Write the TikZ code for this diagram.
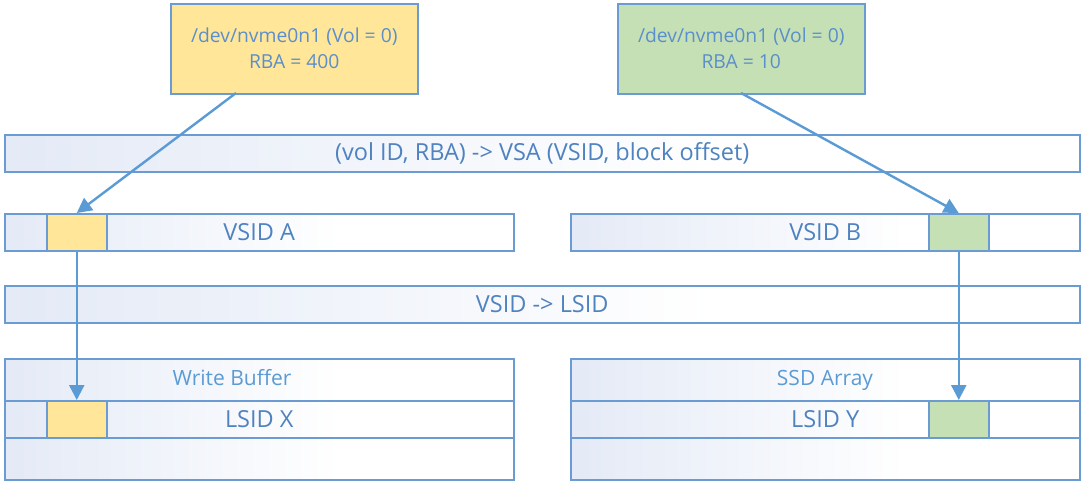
\documentclass[tikz,border=0pt]{standalone}
\usepackage{fontspec}
\setmainfont{Open Sans}
\usetikzlibrary{arrows.meta}
\definecolor{bord}{HTML}{6A9BD3}
\definecolor{arr}{HTML}{5B9BD5}
\definecolor{txt}{HTML}{4E82C0}
\definecolor{txtl}{HTML}{5B9BD5}
\definecolor{txtt}{HTML}{5B8FCB}
\definecolor{ylw}{HTML}{FFE699}
\definecolor{grn}{HTML}{C5E0B4}
\definecolor{grad}{HTML}{E4EAF6}
\pgfdeclarehorizontalshading{barshade}{100bp}{color(0bp)=(grad); color(25bp)=(grad); color(58bp)=(white); color(100bp)=(white)}
\begin{document}
\begin{tikzpicture}[x=1pt,y=-1pt,
  box/.style={draw=bord, line width=1.5pt, inner sep=0pt, anchor=north west, text=txt},
  bar/.style={box, shading=barshade, font=\fontsize{23.5}{26}\selectfont},
  blk/.style={box, minimum width=60pt, minimum height=37pt},
  lbl/.style={text=txtl, inner sep=0pt, font=\fontsize{21}{24}\selectfont},
  devbox/.style={box, minimum width=247pt, minimum height=90pt, align=center, text=txtt,
    font=\fontsize{19.3}{26}\selectfont},
  link/.style={draw=arr, line width=2.4pt, -{Triangle[width=15pt,length=15pt]}}
]
\useasboundingbox (0,0) rectangle (1086,485);
% top boxes
\node[devbox, fill=ylw] (devA) at (170,3) {/dev/nvme0n1 (Vol = 0)\\RBA = 400};
\node[devbox, fill=grn] (devB) at (617,3) {/dev/nvme0n1 (Vol = 0)\\RBA = 10};
% mapping bar 1
\node[bar, minimum width=1075pt, minimum height=37pt] (map1) at (4,134) {(vol ID, RBA) -> VSA (VSID, block offset)};
% VSID bars
\node[bar, minimum width=509pt, minimum height=37pt] (vsidA) at (4,213) {VSID A};
\node[bar, minimum width=509pt, minimum height=37pt] (vsidB) at (570,213) {VSID B};
\node[blk, fill=ylw] (blkA) at (46,213) {};
\node[blk, fill=grn] (blkB) at (928,213) {};
% mapping bar 2
\node[bar, minimum width=1075pt, minimum height=37pt] (map2) at (4,285) {VSID -> LSID};
% bottom containers
\node[bar, minimum width=509pt, minimum height=121pt] (wb) at (4,358) {};
\node[box, minimum width=509pt, minimum height=37pt, font=\fontsize{23.5}{26}\selectfont] (lsidX) at (4,400) {LSID X};
\node[lbl] (wbl) at (232,378) {Write Buffer};
\node[bar, minimum width=509pt, minimum height=121pt] (ssd) at (570,358) {};
\node[box, minimum width=509pt, minimum height=37pt, font=\fontsize{23.5}{26}\selectfont] (lsidY) at (570,400) {LSID Y};
\node[lbl] (ssdl) at (825,380) {SSD Array};
\node[blk, fill=ylw] (blkX) at (46,400) {};
\node[blk, fill=grn] (blkY) at (928,400) {};
% connectors
\coordinate (outA) at (236,93);
\coordinate (outB) at (741,93);
\draw[link] (outA) -- (blkA.north);
\draw[link] (outB) -- (blkB.north);
\draw[link] (blkA.south) -- (blkX.north);
\draw[link] (blkB.south) -- (blkY.north);
\end{tikzpicture}
\end{document}
